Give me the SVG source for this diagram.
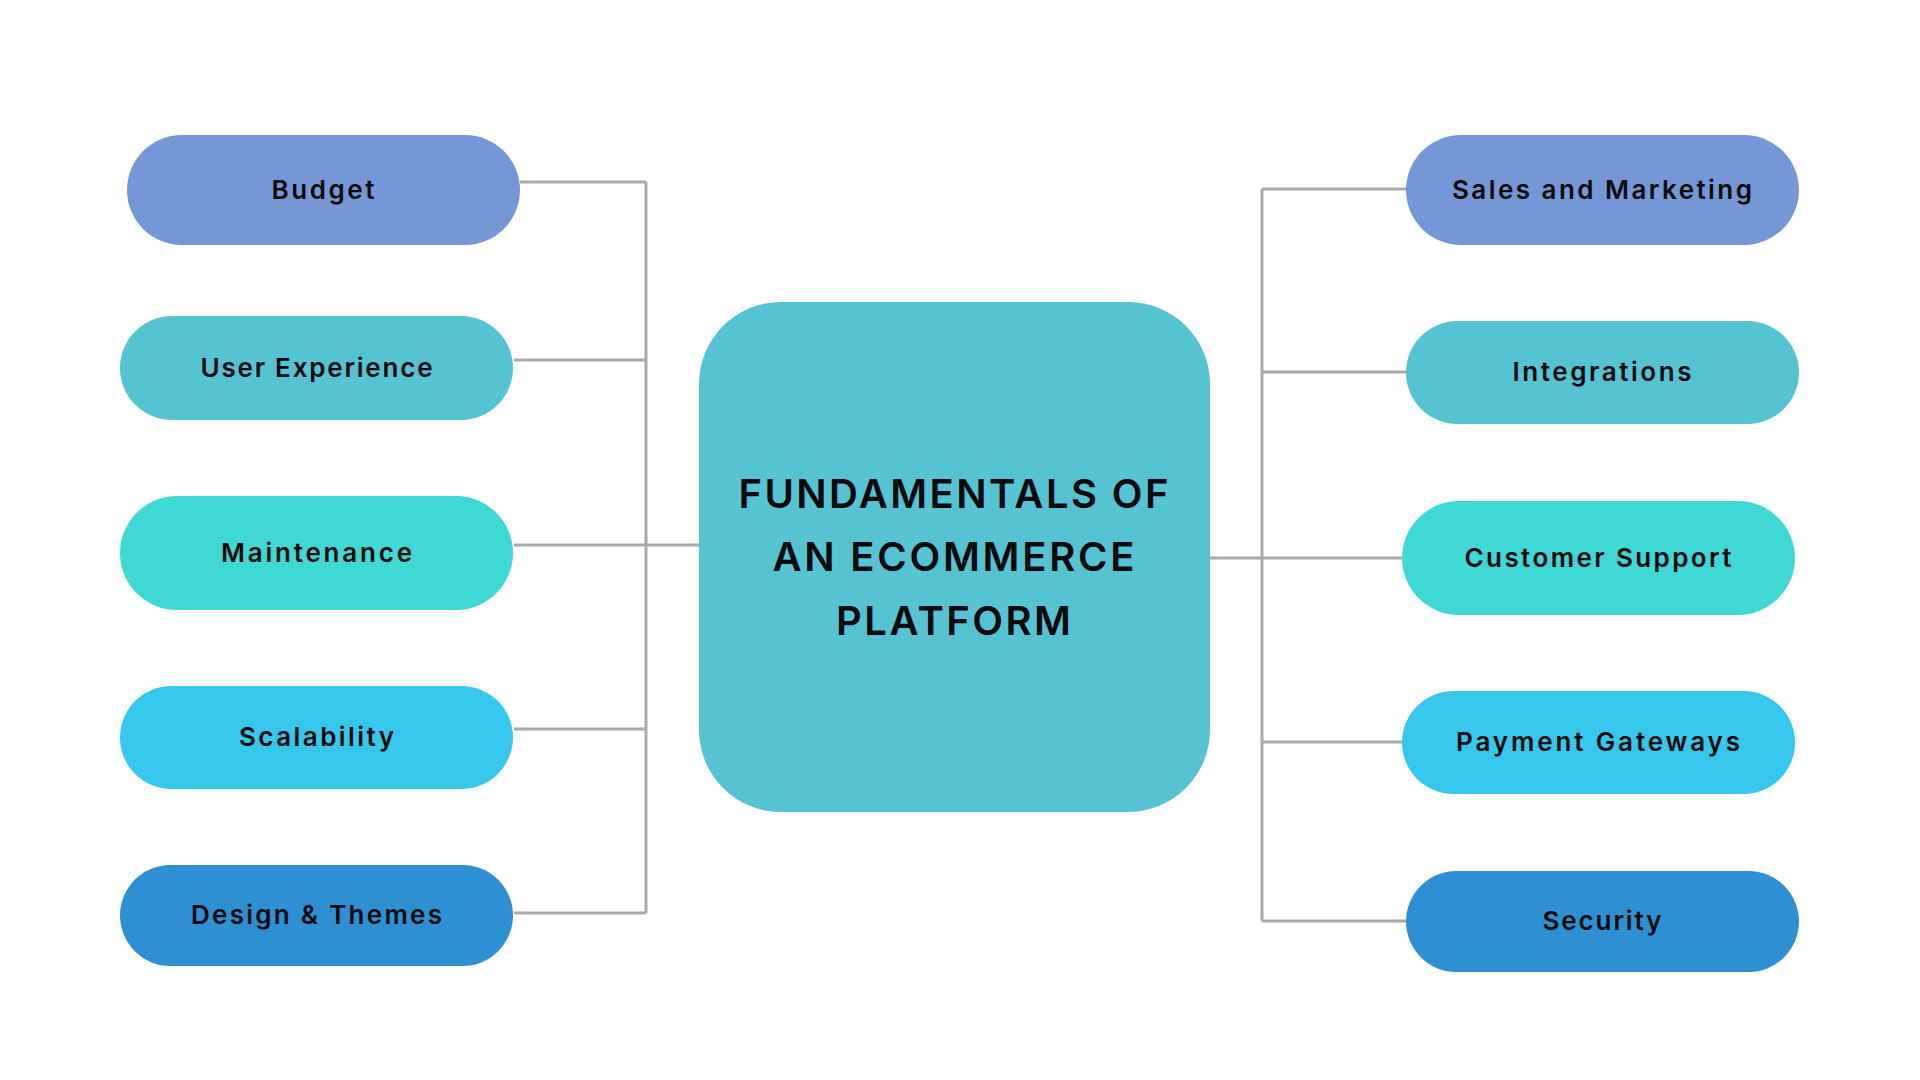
<svg xmlns="http://www.w3.org/2000/svg" width="1920" height="1080" viewBox="0 0 1920 1080">
<style>
.lbl{font-family:Inter,"Noto Sans","Liberation Sans",sans-serif;font-weight:600;font-size:26px;fill:#0a0a0a;text-anchor:middle;letter-spacing:1px}
.title{font-family:Inter,"Noto Sans","Liberation Sans",sans-serif;font-weight:600;font-size:40px;fill:#0a0a0a;text-anchor:middle;letter-spacing:3px}
.con{stroke:#a9a9a9;stroke-width:3;fill:none}
.c1{fill:#7597d8}.c2{fill:#55c3d2}.c3{fill:#3fd8d4}.c4{fill:#38c7ec}.c5{fill:#2e90d3}
</style>
<rect width="1920" height="1080" fill="#ffffff"/>
<g id="connectors">
<path class="con" d="M520 182H646M514 360H646M514 545H700M514 729H646M514 913H646M646 182V913"/>
<path class="con" d="M1406 189H1262M1406 372H1262M1402 558H1210M1402 742H1262M1406 921H1262M1262 189V921"/>
</g>
<g id="center">
<rect class="c2" x="699" y="302" width="511" height="510" rx="82"/>
<text class="title" x="955" y="508" textLength="433" lengthAdjust="spacing">FUNDAMENTALS OF</text>
<text class="title" x="955" y="571" textLength="365" lengthAdjust="spacing">AN ECOMMERCE</text>
<text class="title" x="955" y="635" textLength="238" lengthAdjust="spacing">PLATFORM</text>
</g>
<g id="budget">
<rect class="c1" x="127" y="135" width="393" height="110" rx="55"/>
<text class="lbl" x="323.5" y="199" textLength="104" lengthAdjust="spacing">Budget</text>
</g>
<g id="user-experience">
<rect class="c2" x="120" y="316" width="393" height="104" rx="52"/>
<text class="lbl" x="317" y="377" textLength="233" lengthAdjust="spacing">User Experience</text>
</g>
<g id="maintenance">
<rect class="c3" x="120" y="496" width="393" height="114" rx="57"/>
<text class="lbl" x="317" y="562" textLength="192" lengthAdjust="spacing">Maintenance</text>
</g>
<g id="scalability">
<rect class="c4" x="120" y="686" width="393" height="103" rx="51.5"/>
<text class="lbl" x="317" y="746" textLength="156" lengthAdjust="spacing">Scalability</text>
</g>
<g id="design-themes">
<rect class="c5" x="120" y="865" width="393" height="101" rx="50.5"/>
<text class="lbl" x="317" y="924" textLength="252" lengthAdjust="spacing">Design &amp; Themes</text>
</g>
<g id="sales-marketing">
<rect class="c1" x="1406" y="135" width="393" height="110" rx="55"/>
<text class="lbl" x="1602.5" y="199" textLength="301" lengthAdjust="spacing">Sales and Marketing</text>
</g>
<g id="integrations">
<rect class="c2" x="1406" y="321" width="393" height="103" rx="51.5"/>
<text class="lbl" x="1602.5" y="381" textLength="180" lengthAdjust="spacing">Integrations</text>
</g>
<g id="customer-support">
<rect class="c3" x="1402" y="501" width="393" height="114" rx="57"/>
<text class="lbl" x="1598.5" y="567" textLength="268" lengthAdjust="spacing">Customer Support</text>
</g>
<g id="payment-gateways">
<rect class="c4" x="1402" y="691" width="393" height="103" rx="51.5"/>
<text class="lbl" x="1598.5" y="751" textLength="285" lengthAdjust="spacing">Payment Gateways</text>
</g>
<g id="security">
<rect class="c5" x="1406" y="871" width="393" height="101" rx="50.5"/>
<text class="lbl" x="1602.5" y="930" textLength="120" lengthAdjust="spacing">Security</text>
</g>
</svg>
